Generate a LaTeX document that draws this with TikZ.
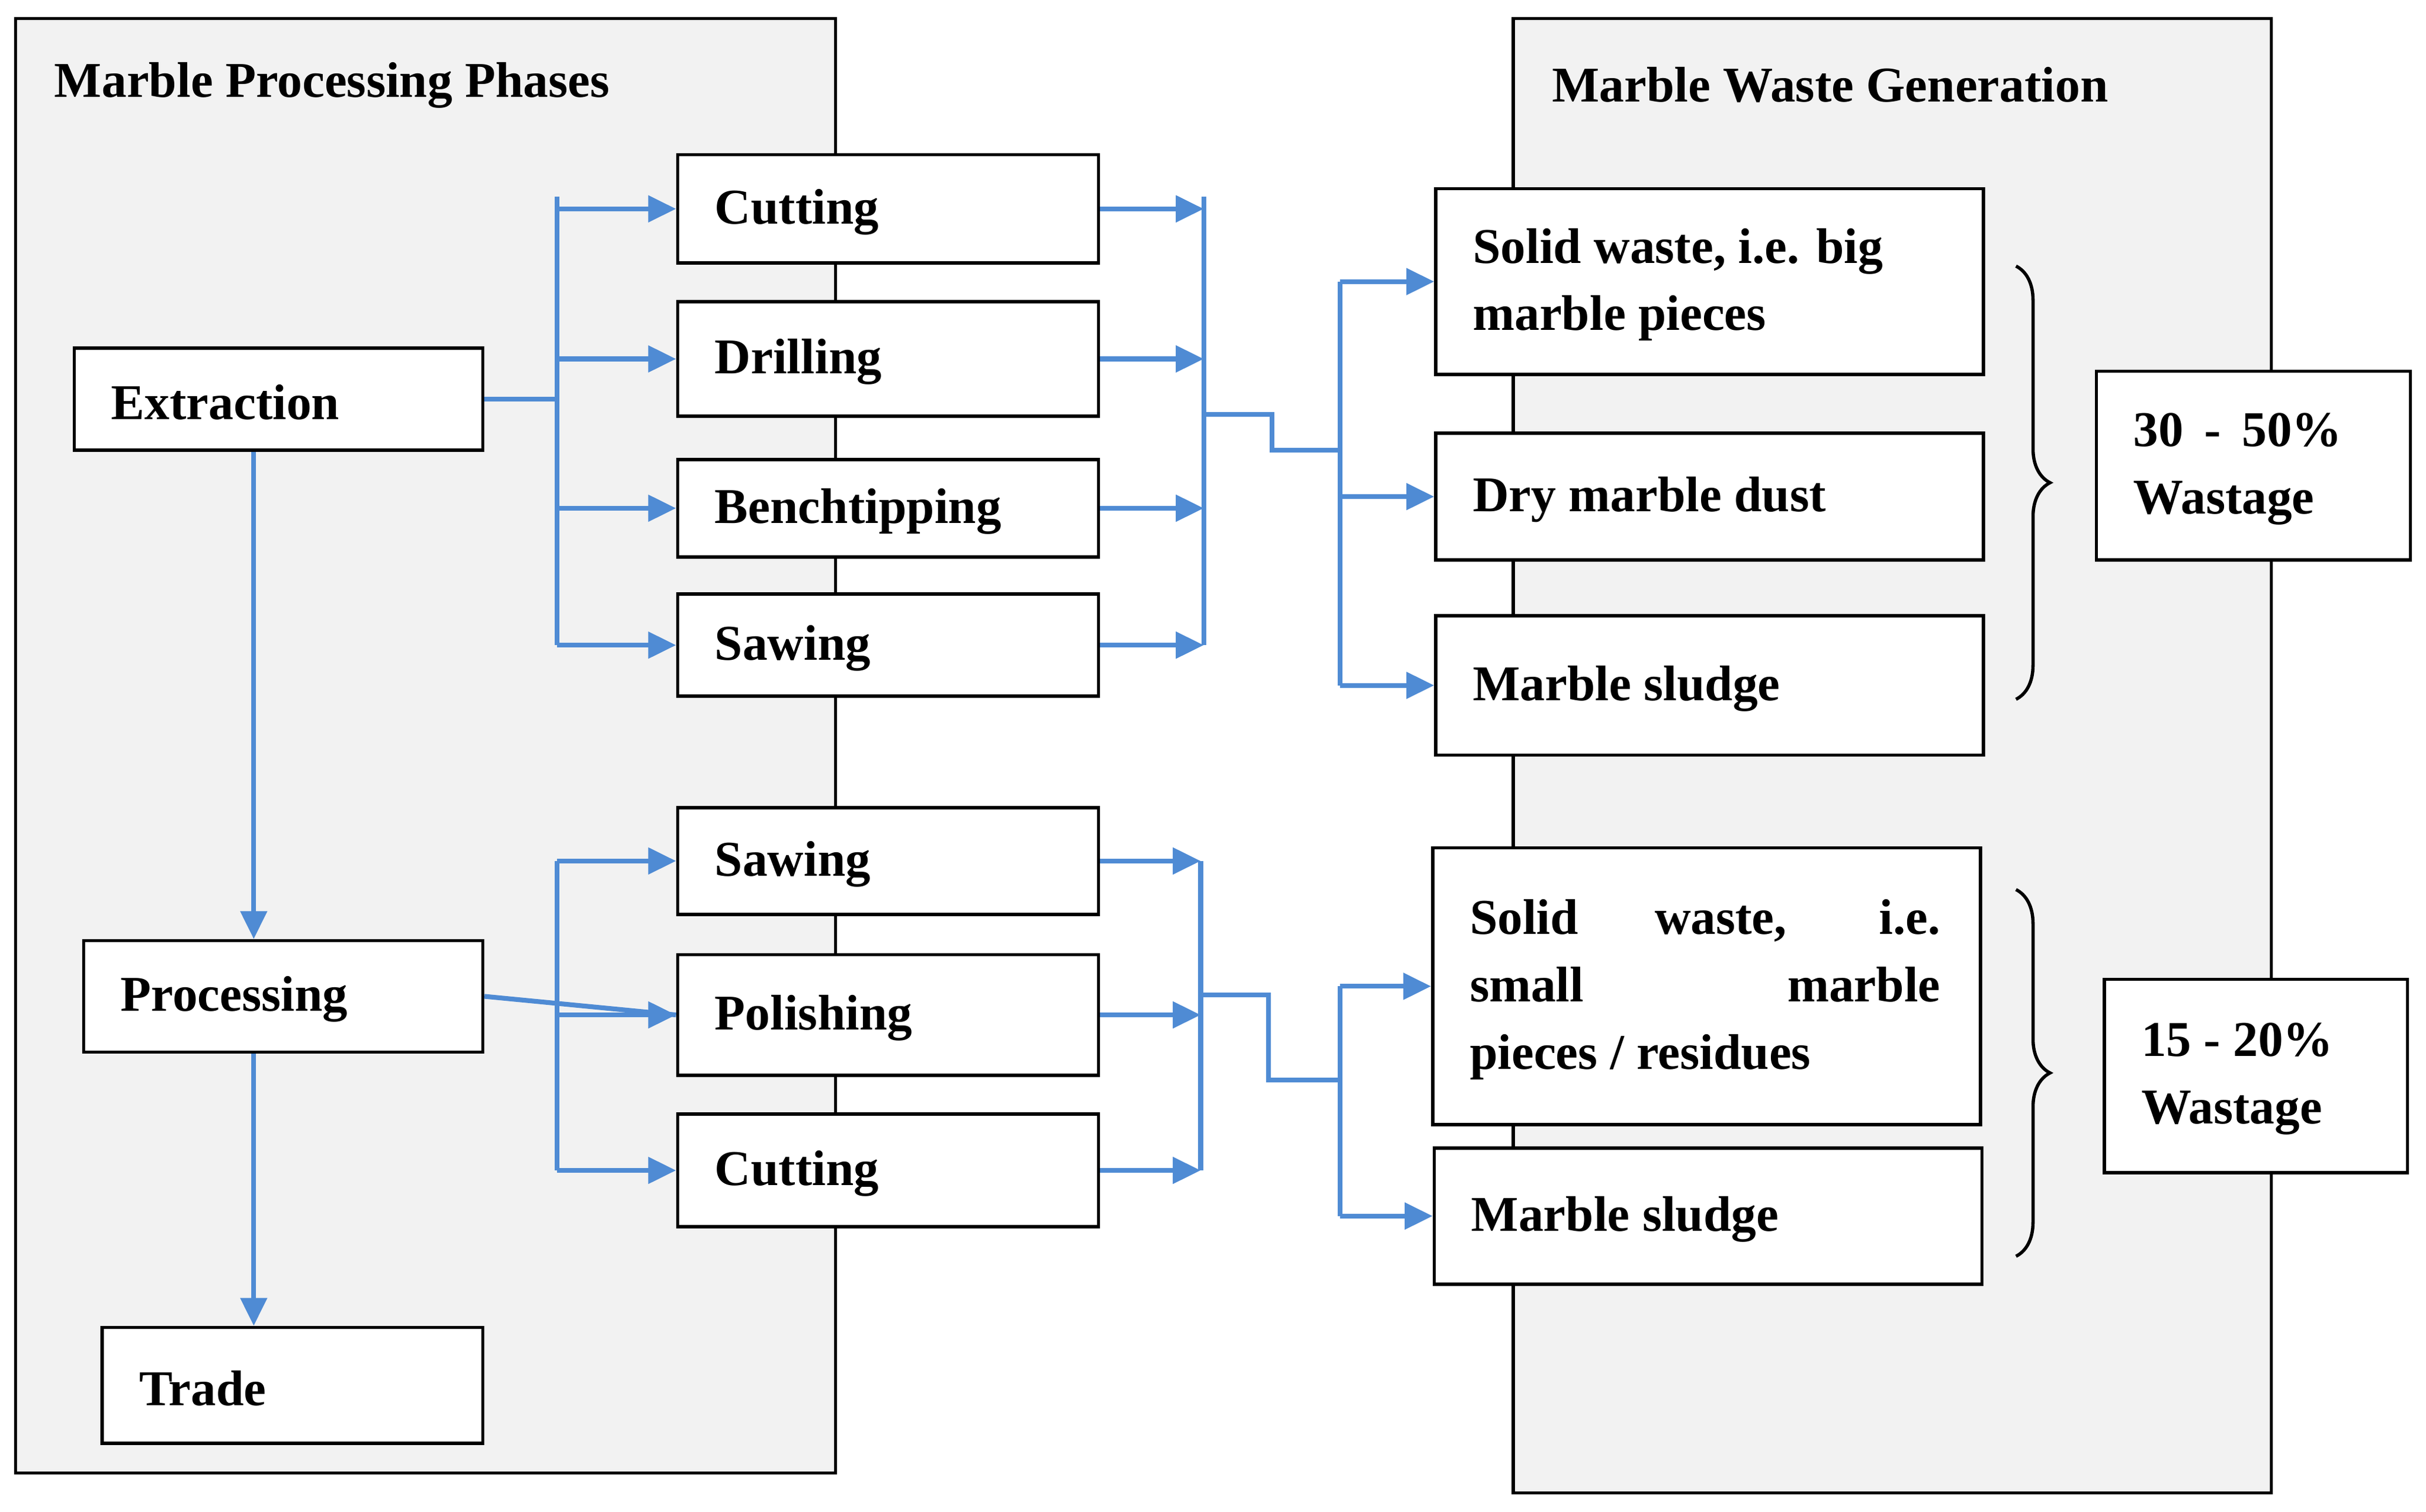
\documentclass[tikz,border=0pt]{standalone}
\usepackage{fontspec}
\setmainfont{Liberation Serif}
\usetikzlibrary{fit,arrows.meta,decorations.pathreplacing}
\definecolor{bl}{RGB}{79,139,212}
\tikzset{
 box/.style={draw=black,line width=1.5pt,fill=white,inner sep=0pt},
 panel/.style={draw=black,line width=1.5pt,fill=black!5},
 txt/.style={font=\fontsize{23}{31}\selectfont\bfseries,inner sep=0pt,align=left},
 bline/.style={draw=bl,line width=2.2pt},
 arr/.style={bline,-{Triangle[length=0.45cm,width=0.42cm]}},
 brc/.style={draw=black,line width=1.5pt,decorate,decoration={brace,amplitude=0.55cm}}
}
\newcommand\bx[6]{\node[box,fit={(#2,#3)(#4,#5)}] (#1) {};
 \node[txt,anchor=west] at ([xshift=0.62cm,yshift=-0.05cm]#1.west) {#6};}
\begin{document}
\begin{tikzpicture}[x=0.025cm,y=-0.025cm]
\useasboundingbox (0,0) rectangle (1568,977);
\draw[panel] (10,12) rectangle (540,952);
\draw[panel] (978,12) rectangle (1468,965);
\node[txt,anchor=west] (t1) at (35,55) {Marble Processing Phases};
\node[txt,anchor=west] (t2) at (1003,55) {Marble Waste Generation};
\bx{ext}{48}{225}{312}{291}{Extraction}
\bx{proc}{54}{608}{312}{680}{Processing}
\bx{trade}{66}{858}{312}{933}{Trade}
\bx{cut}{438}{100}{710}{170}{Cutting}
\bx{dri}{438}{195}{710}{269}{Drilling}
\bx{ben}{438}{297}{710}{360}{Benchtipping}
\bx{saw}{438}{384}{710}{450}{Sawing}
\bx{saw2}{438}{522}{710}{591}{Sawing}
\bx{pol}{438}{617}{710}{695}{Polishing}
\bx{cut2}{438}{720}{710}{793}{Cutting}
\bx{sbig}{928}{122}{1282}{242}{Solid waste, i.e. big\\marble pieces}
\bx{dry}{928}{280}{1282}{362}{Dry marble dust}
\bx{sl}{928}{398}{1282}{488}{Marble sludge}
\bx{ssm}{926}{548}{1280}{727}{\makebox[7.6cm][s]{Solid waste, i.e.}\\\makebox[7.6cm][s]{small marble}\\pieces / residues}
\bx{sl2}{927}{742}{1281}{830}{Marble sludge}
\bx{p1}{1355}{240}{1558}{362}{30 \,-\, 50\%\\Wastage}
\bx{p2}{1360}{633}{1556}{758}{15 - 20\%\\Wastage}
% vertical flow
\draw[arr] (ext.south -| 164,0) -- (proc.north -| 164,0);
\draw[arr] (proc.south -| 164,0) -- (trade.north -| 164,0);
% extraction bus
\coordinate (a1) at (360,127); \coordinate (a2) at (360,417);
\draw[bline] (ext.east) -- (ext.east -| a1);
\draw[bline] (a1) -- (a2);
\foreach \n in {cut,dri,ben,saw} \draw[arr] (\n.west -| a1) -- (\n.west);
\coordinate (r1) at (778,127); \coordinate (r2) at (778,417);
\foreach \n in {cut,dri,ben,saw} \draw[arr] (\n.east) -- (\n.east -| r1);
\draw[bline] (r1) -- (r2);
\coordinate (w1) at (866,172); \coordinate (w2) at (866,438);
\draw[bline] (778,268) -- (822,268) -- (822,291) -- (866,291);
\draw[bline] (sbig.west -| w1) -- (sl.west -| w1);
\foreach \n in {sbig,dry,sl} \draw[arr] (\n.west -| w1) -- (\n.west);
% processing bus
\coordinate (b1) at (360,545);
\draw[bline] (proc.east) -- (pol.west);
\draw[bline] (saw2.west -| b1) -- (cut2.west -| b1);
\foreach \n in {saw2,pol,cut2} \draw[arr] (\n.west -| b1) -- (\n.west);
\coordinate (q1) at (776,545);
\foreach \n in {saw2,pol,cut2} \draw[arr] (\n.east) -- (\n.east -| q1);
\draw[bline] (saw2.east -| q1) -- (cut2.east -| q1);
\coordinate (v1) at (866,614);
\draw[bline] (776,643) -- (820,643) -- (820,698) -- (866,698);
\draw[bline] (ssm.west -| v1) -- (sl2.west -| v1);
\foreach \n in {ssm,sl2} \draw[arr] (\n.west -| v1) -- (\n.west);
% braces
\draw[brc] (1303,172) -- (1303,452);
\draw[brc] (1303,575) -- (1303,812);
\end{tikzpicture}
\end{document}
